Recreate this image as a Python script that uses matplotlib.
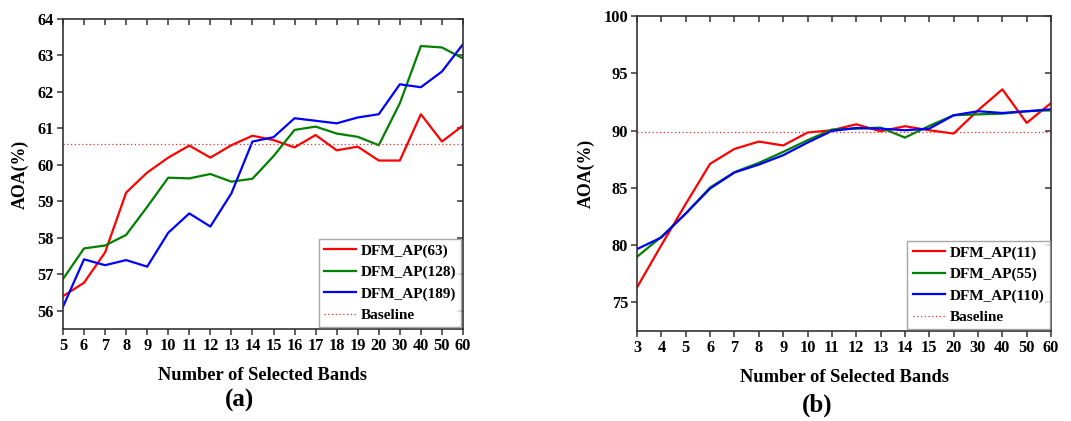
import matplotlib
matplotlib.use("Agg")
import matplotlib.pyplot as plt

plt.rcParams['font.family'] = ['Liberation Serif', 'DejaVu Serif']
plt.rcParams['font.weight'] = 'bold'

# Panel (a)
bands_a = ["5", "6", "7", "8", "9", "10", "11", "12", "13", "14", "15",
           "16", "17", "18", "19", "20", "30", "40", "50", "60"]
ap63 = [56.40, 56.77, 57.60, 59.24, 59.79, 60.20, 60.53, 60.20, 60.54, 60.80,
        60.68, 60.48, 60.82, 60.40, 60.50, 60.12, 60.12, 61.39, 60.64, 61.08]
ap128 = [56.87, 57.71, 57.79, 58.08, 58.85, 59.65, 59.63, 59.75, 59.54, 59.62,
         60.24, 60.96, 61.05, 60.86, 60.77, 60.54, 61.69, 63.26, 63.22, 62.92]
ap189 = [56.11, 57.41, 57.25, 57.39, 57.21, 58.14, 58.67, 58.31, 59.22, 60.64,
         60.76, 61.28, 61.21, 61.14, 61.30, 61.39, 62.21, 62.13, 62.56, 63.31]
baseline_a = 60.56

# Panel (b)
bands_b = ["3", "4", "5", "6", "7", "8", "9", "10", "11", "12", "13", "14",
           "15", "20", "30", "40", "50", "60"]
ap11 = [76.31, 80.00, 83.60, 87.10, 88.40, 89.04, 88.70, 89.83, 90.03, 90.55,
        89.94, 90.38, 90.03, 89.74, 91.77, 93.60, 90.67, 92.41]
ap55 = [78.98, 80.73, 82.76, 85.03, 86.37, 87.18, 88.14, 89.16, 90.09, 90.17,
        90.26, 89.39, 90.41, 91.34, 91.42, 91.48, 91.69, 91.77]
ap110 = [79.65, 80.67, 82.76, 84.94, 86.34, 87.03, 87.85, 88.95, 89.97, 90.23,
         90.17, 90.03, 90.17, 91.34, 91.69, 91.54, 91.69, 91.86]
baseline_b = 89.85

fig = plt.figure(figsize=(10.71, 4.21), dpi=100)
ax_a = fig.add_axes([0.0588, 0.2185, 0.3735, 0.7363])
ax_b = fig.add_axes([0.5948, 0.2138, 0.3866, 0.7480])


def draw(ax, bands, series, names, baseline, ylim, yticks):
    x = list(range(len(bands)))
    for vals, name, col in zip(series, names, ["#ff0000", "#008000", "#0000ff"]):
        ax.plot(x, vals, color=col, lw=1.6, label=name)
    ax.plot([x[0], x[-1]], [baseline, baseline], color="#e03030", lw=0.9,
            ls=(0, (1, 2)), label="Baseline")
    ax.set_xlim(x[0], x[-1])
    ax.set_ylim(*ylim)
    ax.set_xticks(x)
    ax.set_xticklabels(bands)
    ax.set_yticks(yticks)
    for s in ax.spines.values():
        s.set_color("#333333")
        s.set_linewidth(1.2)
    ax.tick_params(axis="both", which="both", labelsize=11.8, color="#333333",
                   width=1.1, length=4.5, direction="out", pad=2)
    ax.tick_params(top=True, right=True)
    for t in ax.xaxis.get_major_ticks():
        t.tick2line.set_marker(3)
    for t in ax.yaxis.get_major_ticks():
        t.tick2line.set_marker(0)
    ax.set_xlabel("Number of Selected Bands", fontsize=13.3, fontweight="bold",
                  labelpad=9)
    ax.set_ylabel("AOA(%)", fontsize=12.8, fontweight="bold", labelpad=6)
    leg = ax.legend(loc="lower right", fontsize=11, frameon=True, fancybox=False,
                    handlelength=2.1, handletextpad=0.3, borderaxespad=0.1,
                    labelspacing=0.5, borderpad=0.35)
    leg.get_frame().set_edgecolor("#909090")
    leg.get_frame().set_linewidth(1.0)


draw(ax_a, bands_a, [ap63, ap128, ap189],
     ["DFM_AP(63)", "DFM_AP(128)", "DFM_AP(189)"], baseline_a,
     (55.5, 64), list(range(56, 65)))
draw(ax_b, bands_b, [ap11, ap55, ap110],
     ["DFM_AP(11)", "DFM_AP(55)", "DFM_AP(110)"], baseline_b,
     (72.5, 100), list(range(75, 101, 5)))

fig.text(240 / 1071, 1 - 400 / 421, "(a)", ha="center", va="center",
         fontsize=18, fontweight="bold")
fig.text(817 / 1071, 1 - 405 / 421, "(b)", ha="center", va="center",
         fontsize=18, fontweight="bold")

fig.savefig("out.png", dpi=100)
